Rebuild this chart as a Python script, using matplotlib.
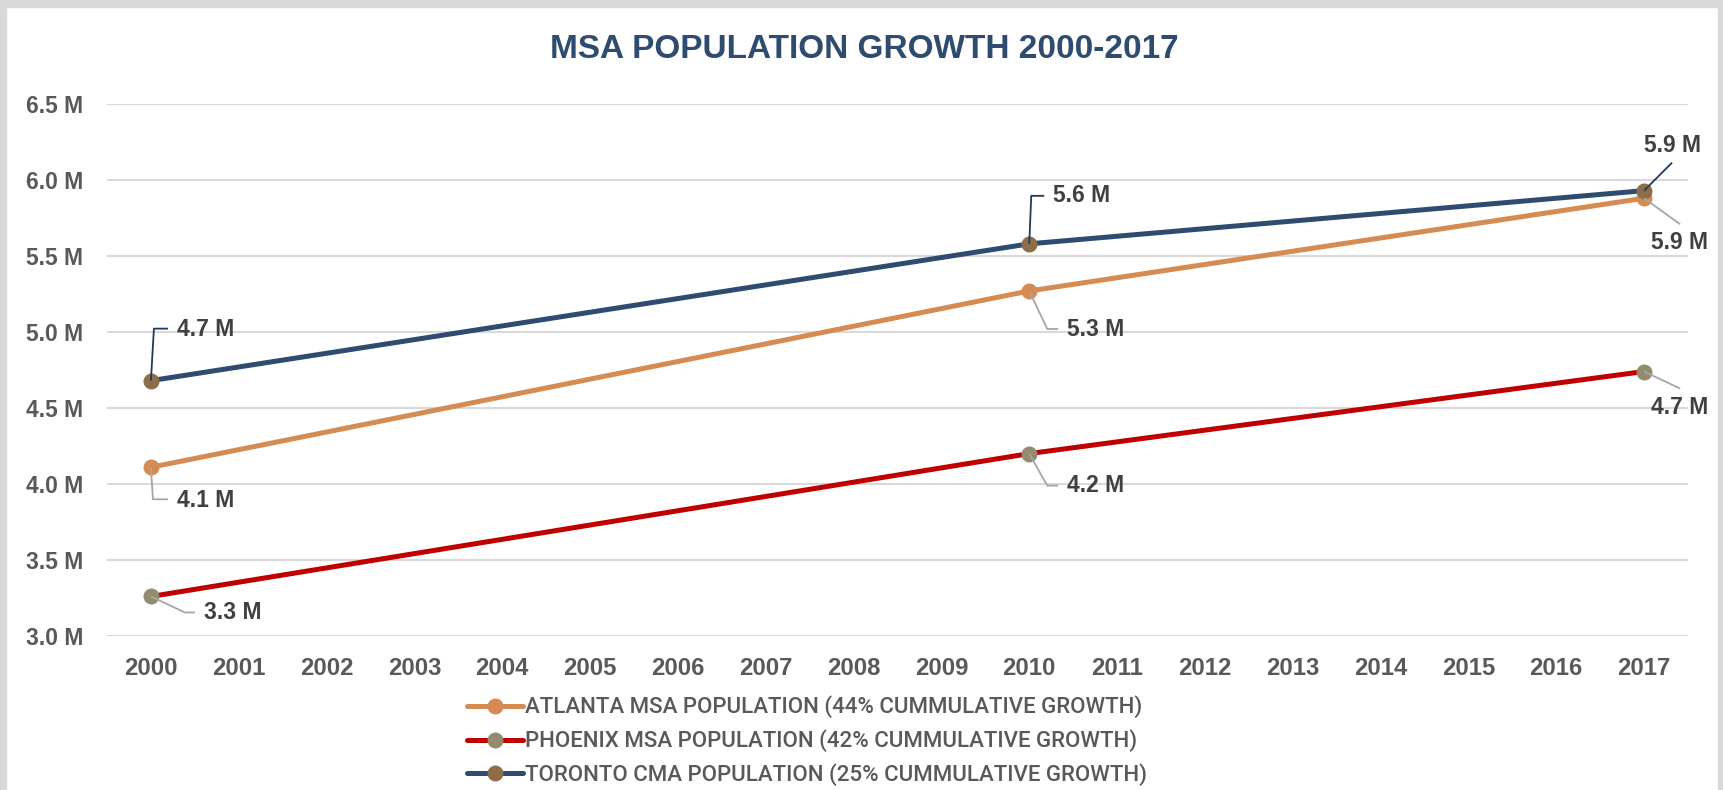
import matplotlib
matplotlib.use("Agg")
import numpy as np
import matplotlib.pyplot as plt
from matplotlib.patches import Rectangle

# ---------------- data ----------------
years = [str(y) for y in range(2000, 2018)]
point_years = ["2000", "2010", "2017"]
atlanta = [4.11, 5.27, 5.88]
phoenix = [3.26, 4.20, 4.74]
toronto = [4.68, 5.58, 5.93]
series_names = [
    "ATLANTA MSA POPULATION (44% CUMMULATIVE GROWTH)",
    "PHOENIX MSA POPULATION (42% CUMMULATIVE GROWTH)",
    "TORONTO CMA POPULATION (25% CUMMULATIVE GROWTH)",
]
yticks = [3.0, 3.5, 4.0, 4.5, 5.0, 5.5, 6.0, 6.5]
title = "MSA POPULATION GROWTH 2000-2017"

# ---------------- style ----------------
line_colors = ["#D68B52", "#C00000", "#2E4B70"]
marker_colors = ["#D68B52", "#948B6F", "#8E6E4A"]
leader_colors = ["#A6A6A6", "#A6A6A6", "#1F3A5C"]
# leader paths (pixel offsets from point) and label left/center offsets (pixels)
leaders = {
    0: [([(0, 0), (2, -32), (17, -32)], (26, -33)),
        ([(0, 0), (18, -38), (29, -38)], (38, -39)),
        ([(0, 0), (36, -26)], (7, -44))],
    1: [([(0, 0), (34, -16), (44, -16)], (53, -16)),
        ([(0, 0), (18, -32), (29, -32)], (38, -32)),
        ([(0, 0), (36, -17)], (7, -36))],
    2: [([(0, 0), (3, 52), (17, 52)], (26, 51)),
        ([(0, 0), (2, 48), (15, 48)], (24, 48)),
        ([(0, 0), (28, 28)], (0, 45))],
}

W, H, DPI = 1723, 790, 100
fig = plt.figure(figsize=(W / DPI, H / DPI), dpi=DPI)
fig.patch.set_facecolor("white")

# grey frame
frame = "#D9D9D9"
fig.add_artist(Rectangle((0, 1 - 7 / H), 1, 7 / H, transform=fig.transFigure, color=frame, zorder=-5))
fig.add_artist(Rectangle((0, 0), 6 / W, 1, transform=fig.transFigure, color=frame, zorder=-5))
fig.add_artist(Rectangle((1 - 5 / W, 0), 5 / W, 1, transform=fig.transFigure, color=frame, zorder=-5))

left, right, top, bottom = 107, 1688, 104, 636
ax = fig.add_axes([left / W, 1 - bottom / H, (right - left) / W, (bottom - top) / H])
ax.set_facecolor("white")
ax.set_xlim(-0.5, len(years) - 0.5)
ax.set_ylim(yticks[0], yticks[-1])

xidx = {y: i for i, y in enumerate(years)}
xs = [xidx[y] for y in point_years]
all_series = [atlanta, phoenix, toronto]

handles = []
for k, vals in enumerate(all_series):
    (ln,) = ax.plot(xs, vals, color=line_colors[k], lw=3.6, marker="o", ms=10.5,
                    markerfacecolor=marker_colors[k], markeredgecolor=marker_colors[k],
                    solid_capstyle="round", zorder=3 + k)
    handles.append(ln)

# data labels with leader lines
for k, vals in enumerate(all_series):
    for j, (x, v) in enumerate(zip(xs, vals)):
        path, (tx, ty) = leaders[k][j]
        base = ax.transData.transform((x, v))
        pts = np.array([[base[0] + a, base[1] + b] for a, b in path])
        dpts = ax.transData.inverted().transform(pts)
        ax.plot(dpts[:, 0], dpts[:, 1], color=leader_colors[k], lw=1.3, zorder=10,
                solid_capstyle="butt", clip_on=False)
        ax.annotate(f"{v:.1f} M", xy=(x, v), xytext=(tx * 0.72, ty * 0.72),
                    textcoords="offset points", ha="left", va="center",
                    fontsize=16.5, fontweight="bold", color="#404040",
                    family="Liberation Sans", zorder=11, annotation_clip=False)

ax.set_xticks(range(len(years)))
ax.set_xticklabels(years)
ax.set_yticks(yticks)
ax.set_yticklabels([f"{t:.1f} M" for t in yticks])
ax.grid(axis="y", color="#D9D9D9", lw=1.5, zorder=0)
ax.set_axisbelow(True)
for s in ax.spines.values():
    s.set_visible(False)
ax.tick_params(length=0)
ax.tick_params(axis="x", pad=15)
ax.tick_params(axis="y", pad=17)
for lab in ax.get_yticklabels():
    lab.set_family("Liberation Sans")
    lab.set_fontsize(16.5)
    lab.set_fontweight("bold")
    lab.set_color("#595959")
for lab in ax.get_xticklabels():
    lab.set_family("Liberation Sans")
    lab.set_fontsize(17.2)
    lab.set_fontweight("bold")
    lab.set_color("#595959")

fig.text(864 / W, 1 - 50 / H, title, ha="center", va="center",
         fontsize=24, fontweight="bold", color="#2E4B70", family="Liberation Sans")

leg = fig.legend(handles, series_names, loc="center left",
                 bbox_to_anchor=(467 / W, 1 - 741 / H), frameon=False,
                 prop={"family": "Roboto", "size": 16, "weight": "medium"},
                 handlelength=2.5, handletextpad=0.12, labelspacing=0.5,
                 borderpad=0, borderaxespad=0)
for t in leg.get_texts():
    t.set_color("#595959")

fig.savefig("out.png", dpi=DPI, facecolor="white")
